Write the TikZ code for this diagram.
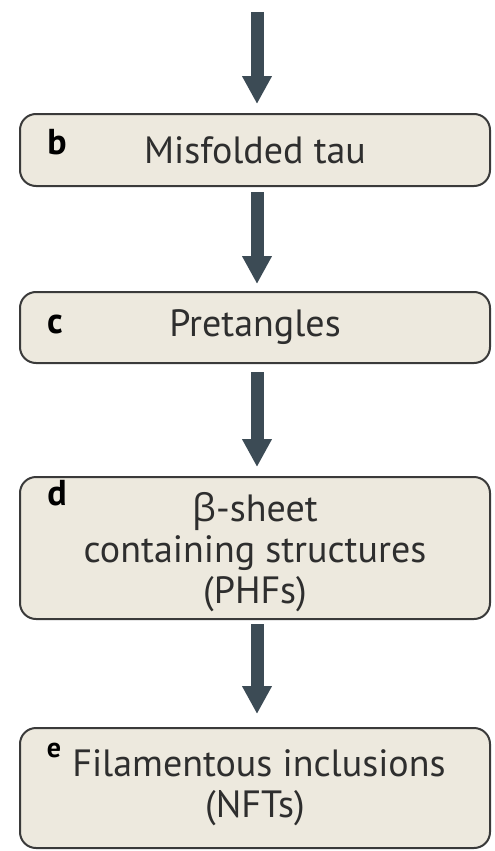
\documentclass[tikz,border=0pt]{standalone}
\usepackage{fontspec}
\setmainfont{PT Sans}
\newfontfamily\greekfont{Open Sans}
\usetikzlibrary{arrows.meta}
\definecolor{boxfill}{HTML}{EDE9DE}
\definecolor{boxline}{HTML}{3A3A3A}
\definecolor{arrcol}{HTML}{3C4B55}
\definecolor{txt}{HTML}{2E2E2E}
\tikzset{
  stagebox/.style={draw=boxline, line width=2pt, fill=boxfill, rounded corners=16pt,
    minimum width=470pt, anchor=north, inner sep=0pt, text=txt, align=center,
    font=\fontsize{38}{41}\selectfont},
  lab/.style={font=\fontsize{36}{36}\selectfont\bfseries, text=black, anchor=base},
  flow/.style={arrcol, line width=13pt, -{Triangle[width=28pt,length=28pt]}}
}
\begin{document}
\begin{tikzpicture}[x=1pt,y=-1pt]
\useasboundingbox (0,0) rectangle (495,851);
\node[stagebox, minimum height=72pt] (b) at (255,113) {Misfolded tau};
\node[stagebox, minimum height=71pt] (c) at (255,291) {Pretangles};
\node[stagebox, minimum height=142pt] (d) at (255,476) {\rule{0pt}{38pt}{\greekfont β}-sheet\\containing structures\\(PHFs)};
\node[stagebox, minimum height=120pt] (e) at (255,727) {\hspace*{8pt}Filamentous inclusions\\(NFTs)};
\coordinate (top) at (257,12);
\node[lab] (lb) at (57,154) {b};
\node[lab] (lc) at (55,333) {c};
\node[lab] (ld) at (57,505) {d};
\node[lab, font=\fontsize{28}{28}\selectfont\bfseries] (le) at (54,757) {e};
\draw[flow, shorten >=9pt] (top) -- (b.north -| top);
\draw[flow, shorten <=5pt, shorten >=7pt] (b.south -| top) -- (c.north -| top);
\draw[flow, shorten <=8pt, shorten >=9pt] (c.south -| top) -- (d.north -| top);
\draw[flow, shorten <=4pt, shorten >=13pt] (d.south -| top) -- (e.north -| top);
\end{tikzpicture}
\end{document}
